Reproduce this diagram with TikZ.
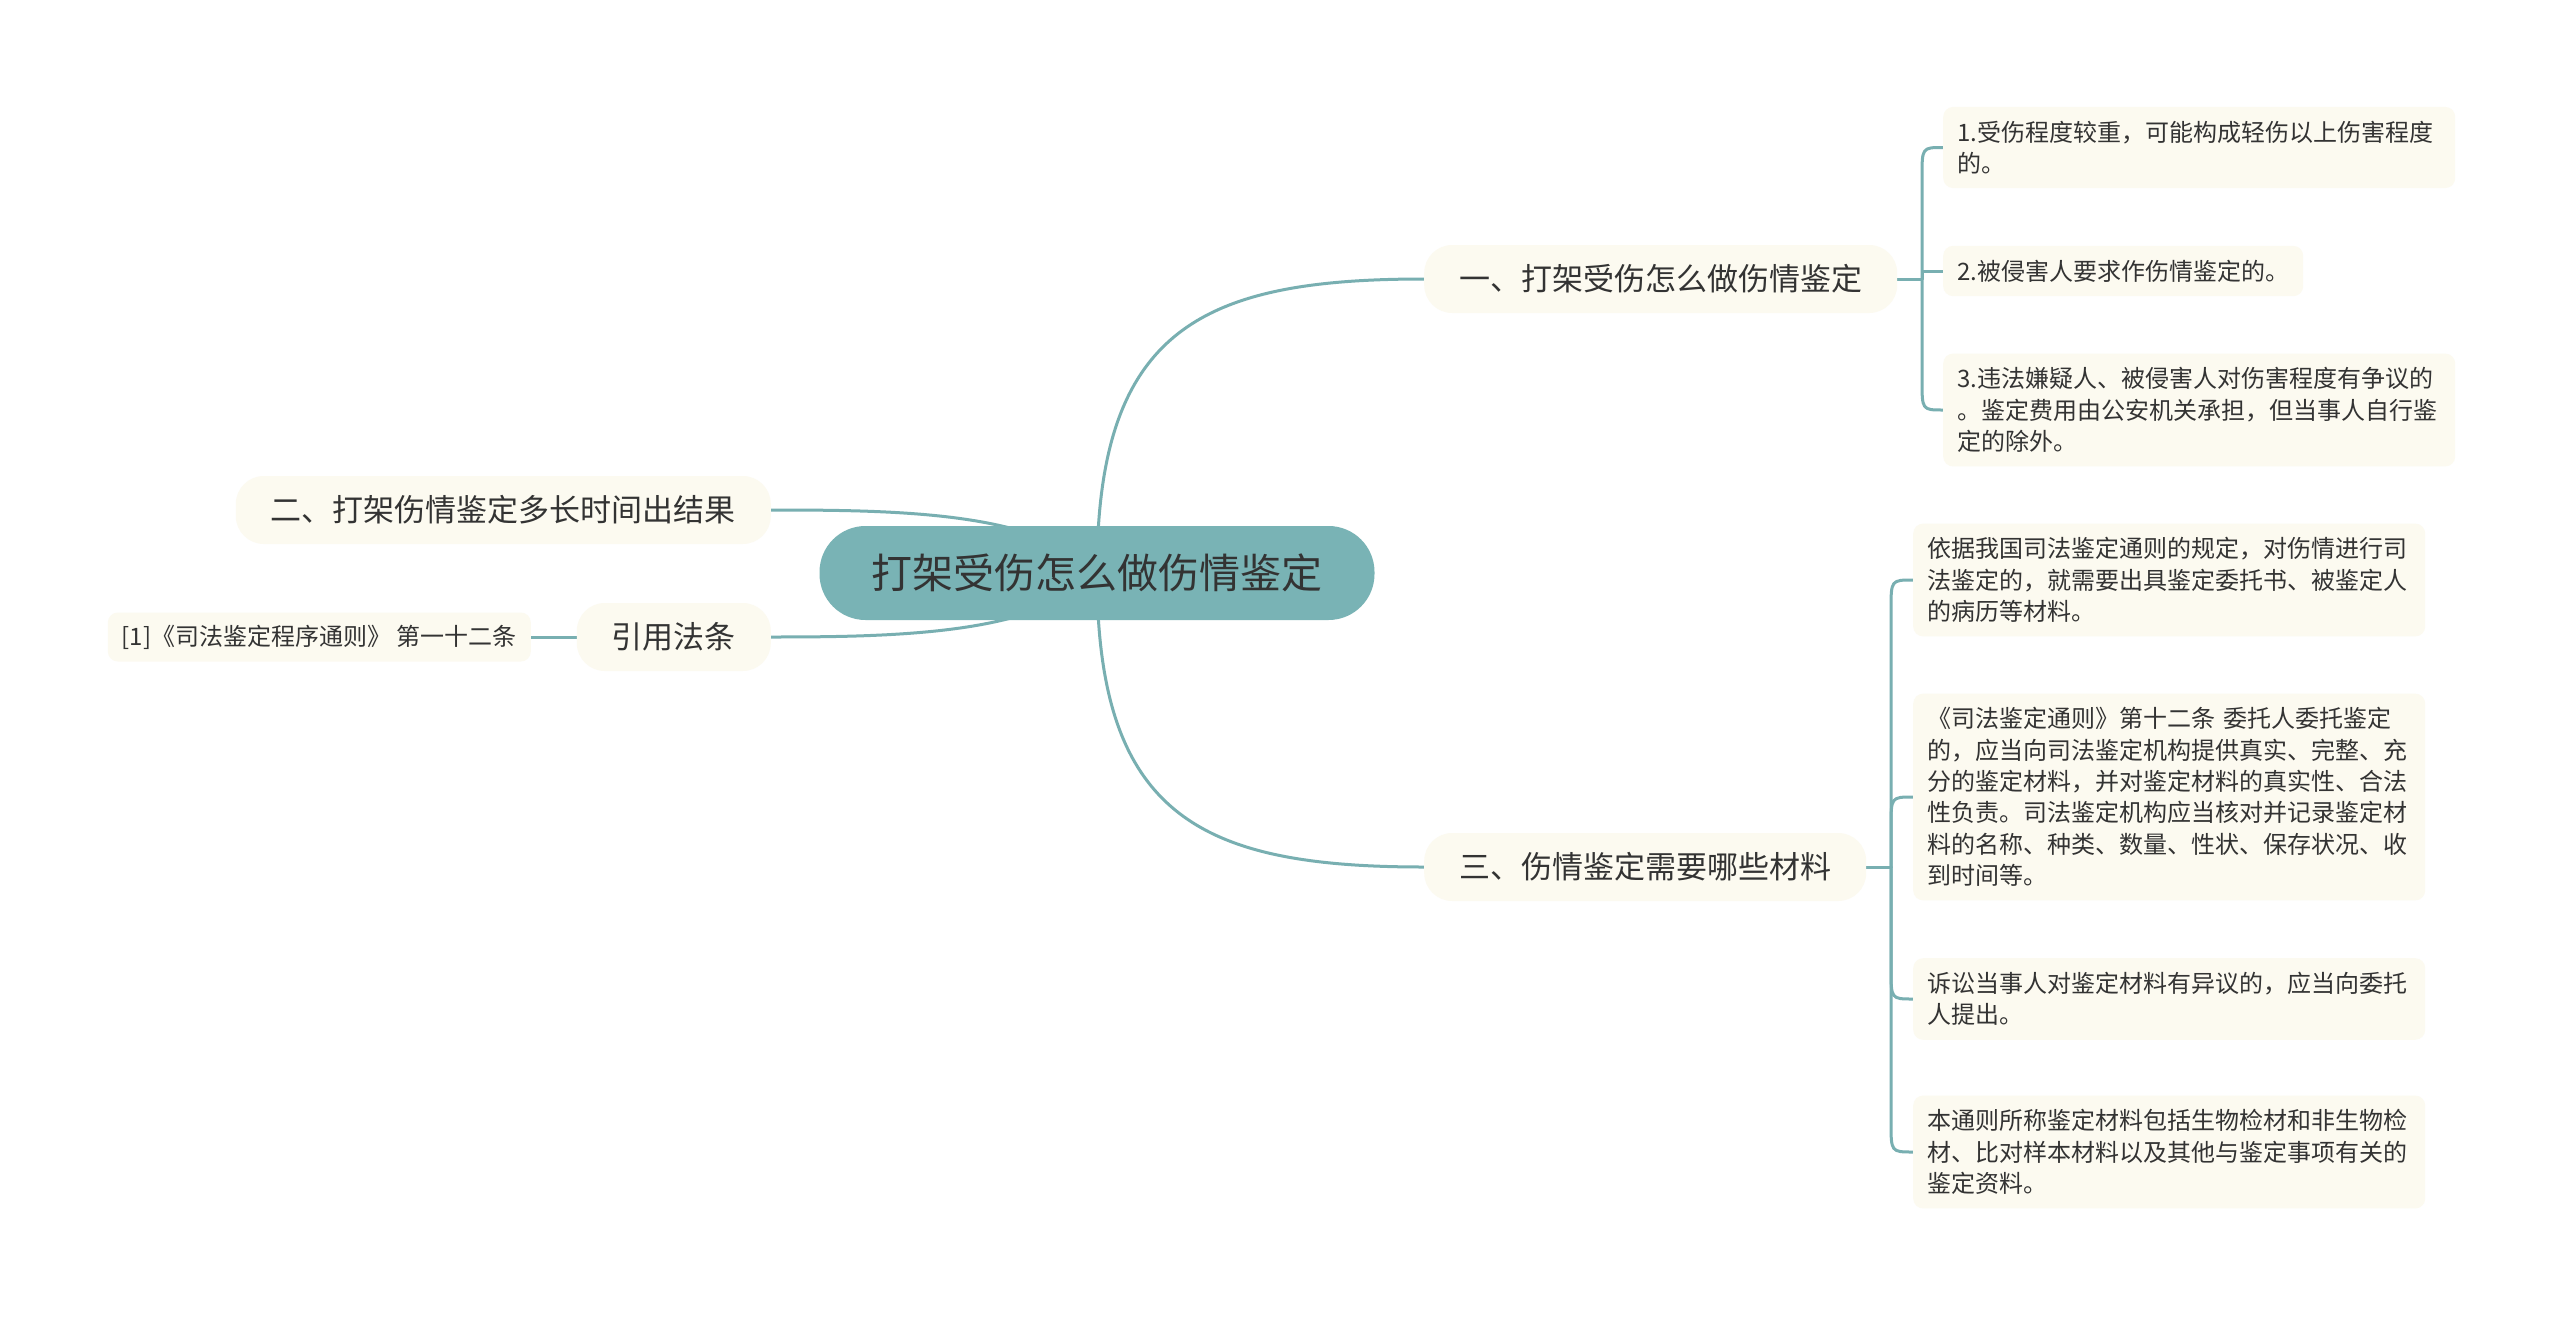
\documentclass[tikz,border=0pt]{standalone}
\usepackage{fontspec}
\setmainfont{Noto Sans CJK SC}
\usetikzlibrary{backgrounds}
\definecolor{rootc}{HTML}{79B3B5}
\definecolor{linec}{HTML}{78AFB1}
\definecolor{cream}{HTML}{FCFAF0}
\definecolor{txt}{HTML}{333333}
\begin{document}
\begin{tikzpicture}[x=1pt,y=-1pt,
  conn/.style={draw=linec, line width=3pt, line cap=round, line join=round},
  rootbox/.style={fill=rootc, rounded corners=46pt, minimum height=94pt, minimum width=555pt, inner sep=0pt, text=txt, font=\fontsize{41pt}{48pt}\selectfont},
  branchbox/.style={fill=cream, rounded corners=28pt, minimum height=68pt, inner xsep=35pt, inner ysep=0pt, text=txt, font=\fontsize{31pt}{37pt}\selectfont},
  leafbox/.style={fill=cream, rounded corners=10pt, inner xsep=14pt, inner ysep=14pt, text=txt, align=left, font=\fontsize{24pt}{31.3pt}\selectfont},
  wide/.style={text width=484pt}
]
\useasboundingbox (0,0) rectangle (2560,1317);

\node[rootbox] (c) at (1097,573) {打架受伤怎么做伤情鉴定};
\node[branchbox, anchor=west] (b1) at (1424,279) {一、打架受伤怎么做伤情鉴定};
\node[branchbox, anchor=west] (b3) at (1424,867) {三、伤情鉴定需要哪些材料};
\node[branchbox, anchor=east] (b2) at (771,510) {二、打架伤情鉴定多长时间出结果};
\node[branchbox, anchor=east] (yin) at (771,637) {引用法条};
\node[leafbox, anchor=east, inner ysep=0pt, minimum height=49pt] (ref) at (531,637) {[1]《司法鉴定程序通则》 第一十二条};

\node[leafbox, wide, anchor=west] (L1) at (1943,147.5) {1.受伤程度较重，可能构成轻伤以上伤害程度\\的。};
\node[leafbox, anchor=west] (L2) at (1943,271) {2.被侵害人要求作伤情鉴定的。};
\node[leafbox, wide, anchor=west] (L3) at (1943,410) {3.违法嫌疑人、被侵害人对伤害程度有争议的\\。鉴定费用由公安机关承担，但当事人自行鉴\\定的除外。};

\node[leafbox, wide, anchor=west] (R1) at (1913,580) {依据我国司法鉴定通则的规定，对伤情进行司\\法鉴定的，就需要出具鉴定委托书、被鉴定人\\的病历等材料。};
\node[leafbox, wide, anchor=west] (R2) at (1913,797) {《司法鉴定通则》第十二条 委托人委托鉴定\\的，应当向司法鉴定机构提供真实、完整、充\\分的鉴定材料，并对鉴定材料的真实性、合法\\性负责。司法鉴定机构应当核对并记录鉴定材\\料的名称、种类、数量、性状、保存状况、收\\到时间等。};
\node[leafbox, wide, anchor=west] (R3) at (1913,999) {诉讼当事人对鉴定材料有异议的，应当向委托\\人提出。};
\node[leafbox, wide, anchor=west] (R4) at (1913,1152) {本通则所称鉴定材料包括生物检材和非生物检\\材、比对样本材料以及其他与鉴定事项有关的\\鉴定资料。};

\coordinate (j1) at (1922,279);
\coordinate (j3) at (1891,867);

\begin{scope}[on background layer]
\fill[white] (0,0) rectangle (2560,1317);
\draw[conn] (c.center) .. controls (1097,330) and (1200,279) .. (b1.west);
\draw[conn] (c.center) .. controls (1097,816) and (1200,867) .. (b3.west);
\draw[conn] (c.center) .. controls (1040,512) and (900,510) .. (b2.east);
\draw[conn] (c.center) .. controls (1040,634) and (900,637) .. (yin.east);
\draw[conn] (ref.east) -- (yin.west);
\draw[conn] (b1.east) -- (j1);
\draw[conn] (j1) -- (1922,177) .. controls (1922,147.5) .. (L1.west);
\draw[conn] (j1) -- (1922,271) -- (L2.west);
\draw[conn] (j1) -- (1922,380) .. controls (1922,410) .. (L3.west);
\draw[conn] (b3.east) -- (j3);
\draw[conn] (j3) -- (1891,610) .. controls (1891,580) .. (R1.west);
\draw[conn] (j3) -- (1891,827) .. controls (1891,797) .. (R2.west);
\draw[conn] (j3) -- (1891,969) .. controls (1891,999) .. (R3.west);
\draw[conn] (j3) -- (1891,1122) .. controls (1891,1152) .. (R4.west);
\end{scope}
\end{tikzpicture}
\end{document}
